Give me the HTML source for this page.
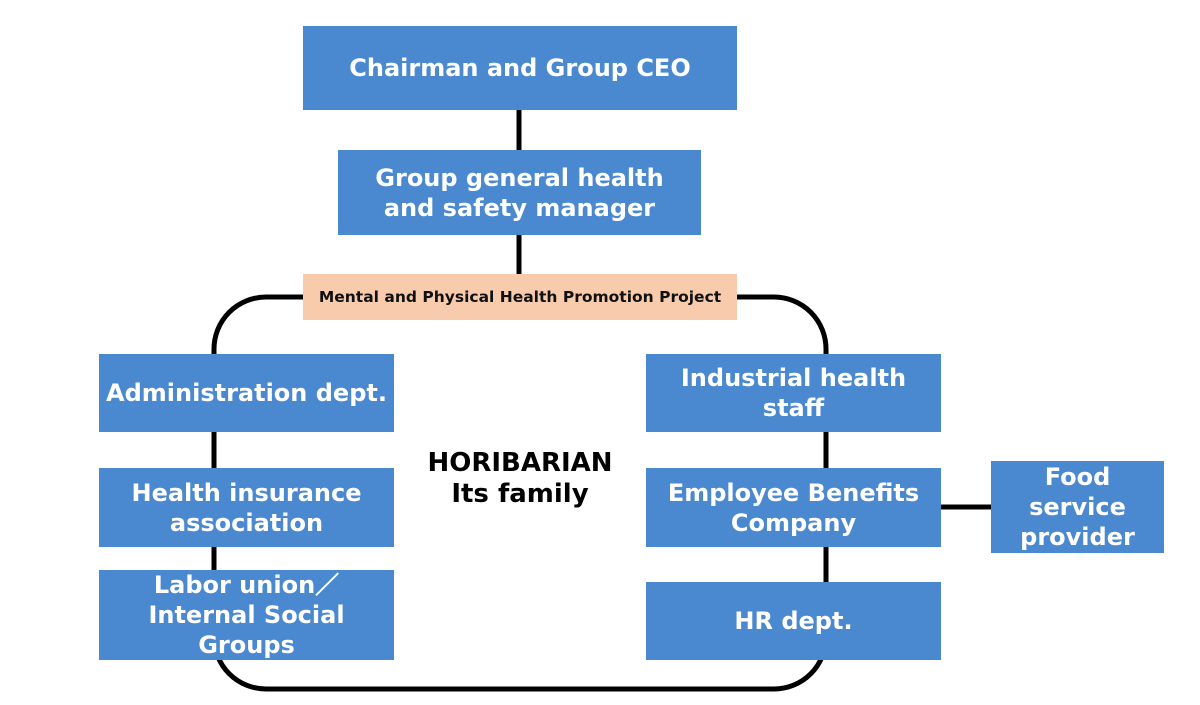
<!DOCTYPE html>
<html><head><style>
body{margin:0;width:1200px;height:705px;background:#fff;position:relative;overflow:hidden;font-family:"DejaVu Sans","Liberation Sans",sans-serif;}
.b{position:absolute;background:#4a89d0;color:#fff;font-weight:bold;font-size:24px;line-height:30px;display:flex;align-items:center;justify-content:center;text-align:center;}
</style></head><body>
<svg width="1200" height="705" style="position:absolute;left:0;top:0">
<rect x="214" y="297" width="612" height="392" rx="52" ry="52" fill="none" stroke="#000" stroke-width="5"/>
<line x1="519" y1="108" x2="519" y2="276" stroke="#000" stroke-width="5"/>
<line x1="940" y1="507" x2="992" y2="507" stroke="#000" stroke-width="5"/>
</svg>
<div class="b" style="left:303px;top:26px;width:434px;height:84px;">Chairman and Group CEO</div>
<div class="b" style="left:338px;top:150px;width:363px;height:85px;">Group general health<br>and safety manager</div>
<div class="b" style="left:303px;top:274px;width:434px;height:46px;background:#f8cbad;color:#111;font-size:15.5px;">Mental and Physical Health Promotion Project</div>
<div class="b" style="left:99px;top:354px;width:295px;height:78px;">Administration dept.</div>
<div class="b" style="left:99px;top:468px;width:295px;height:79px;">Health insurance<br>association</div>
<div class="b" style="left:99px;top:570px;width:295px;height:90px;">Labor union／<br>Internal Social<br>Groups</div>
<div class="b" style="left:646px;top:354px;width:295px;height:78px;">Industrial health<br>staff</div>
<div class="b" style="left:646px;top:468px;width:295px;height:79px;">Employee Benefits<br>Company</div>
<div class="b" style="left:646px;top:582px;width:295px;height:78px;">HR dept.</div>
<div class="b" style="left:991px;top:461px;width:173px;height:92px;">Food<br>service<br>provider</div>
<div style="position:absolute;left:390px;top:448px;width:260px;text-align:center;font-weight:bold;font-size:26px;line-height:31px;color:#000;">HORIBARIAN<br>Its family</div>
</body></html>
